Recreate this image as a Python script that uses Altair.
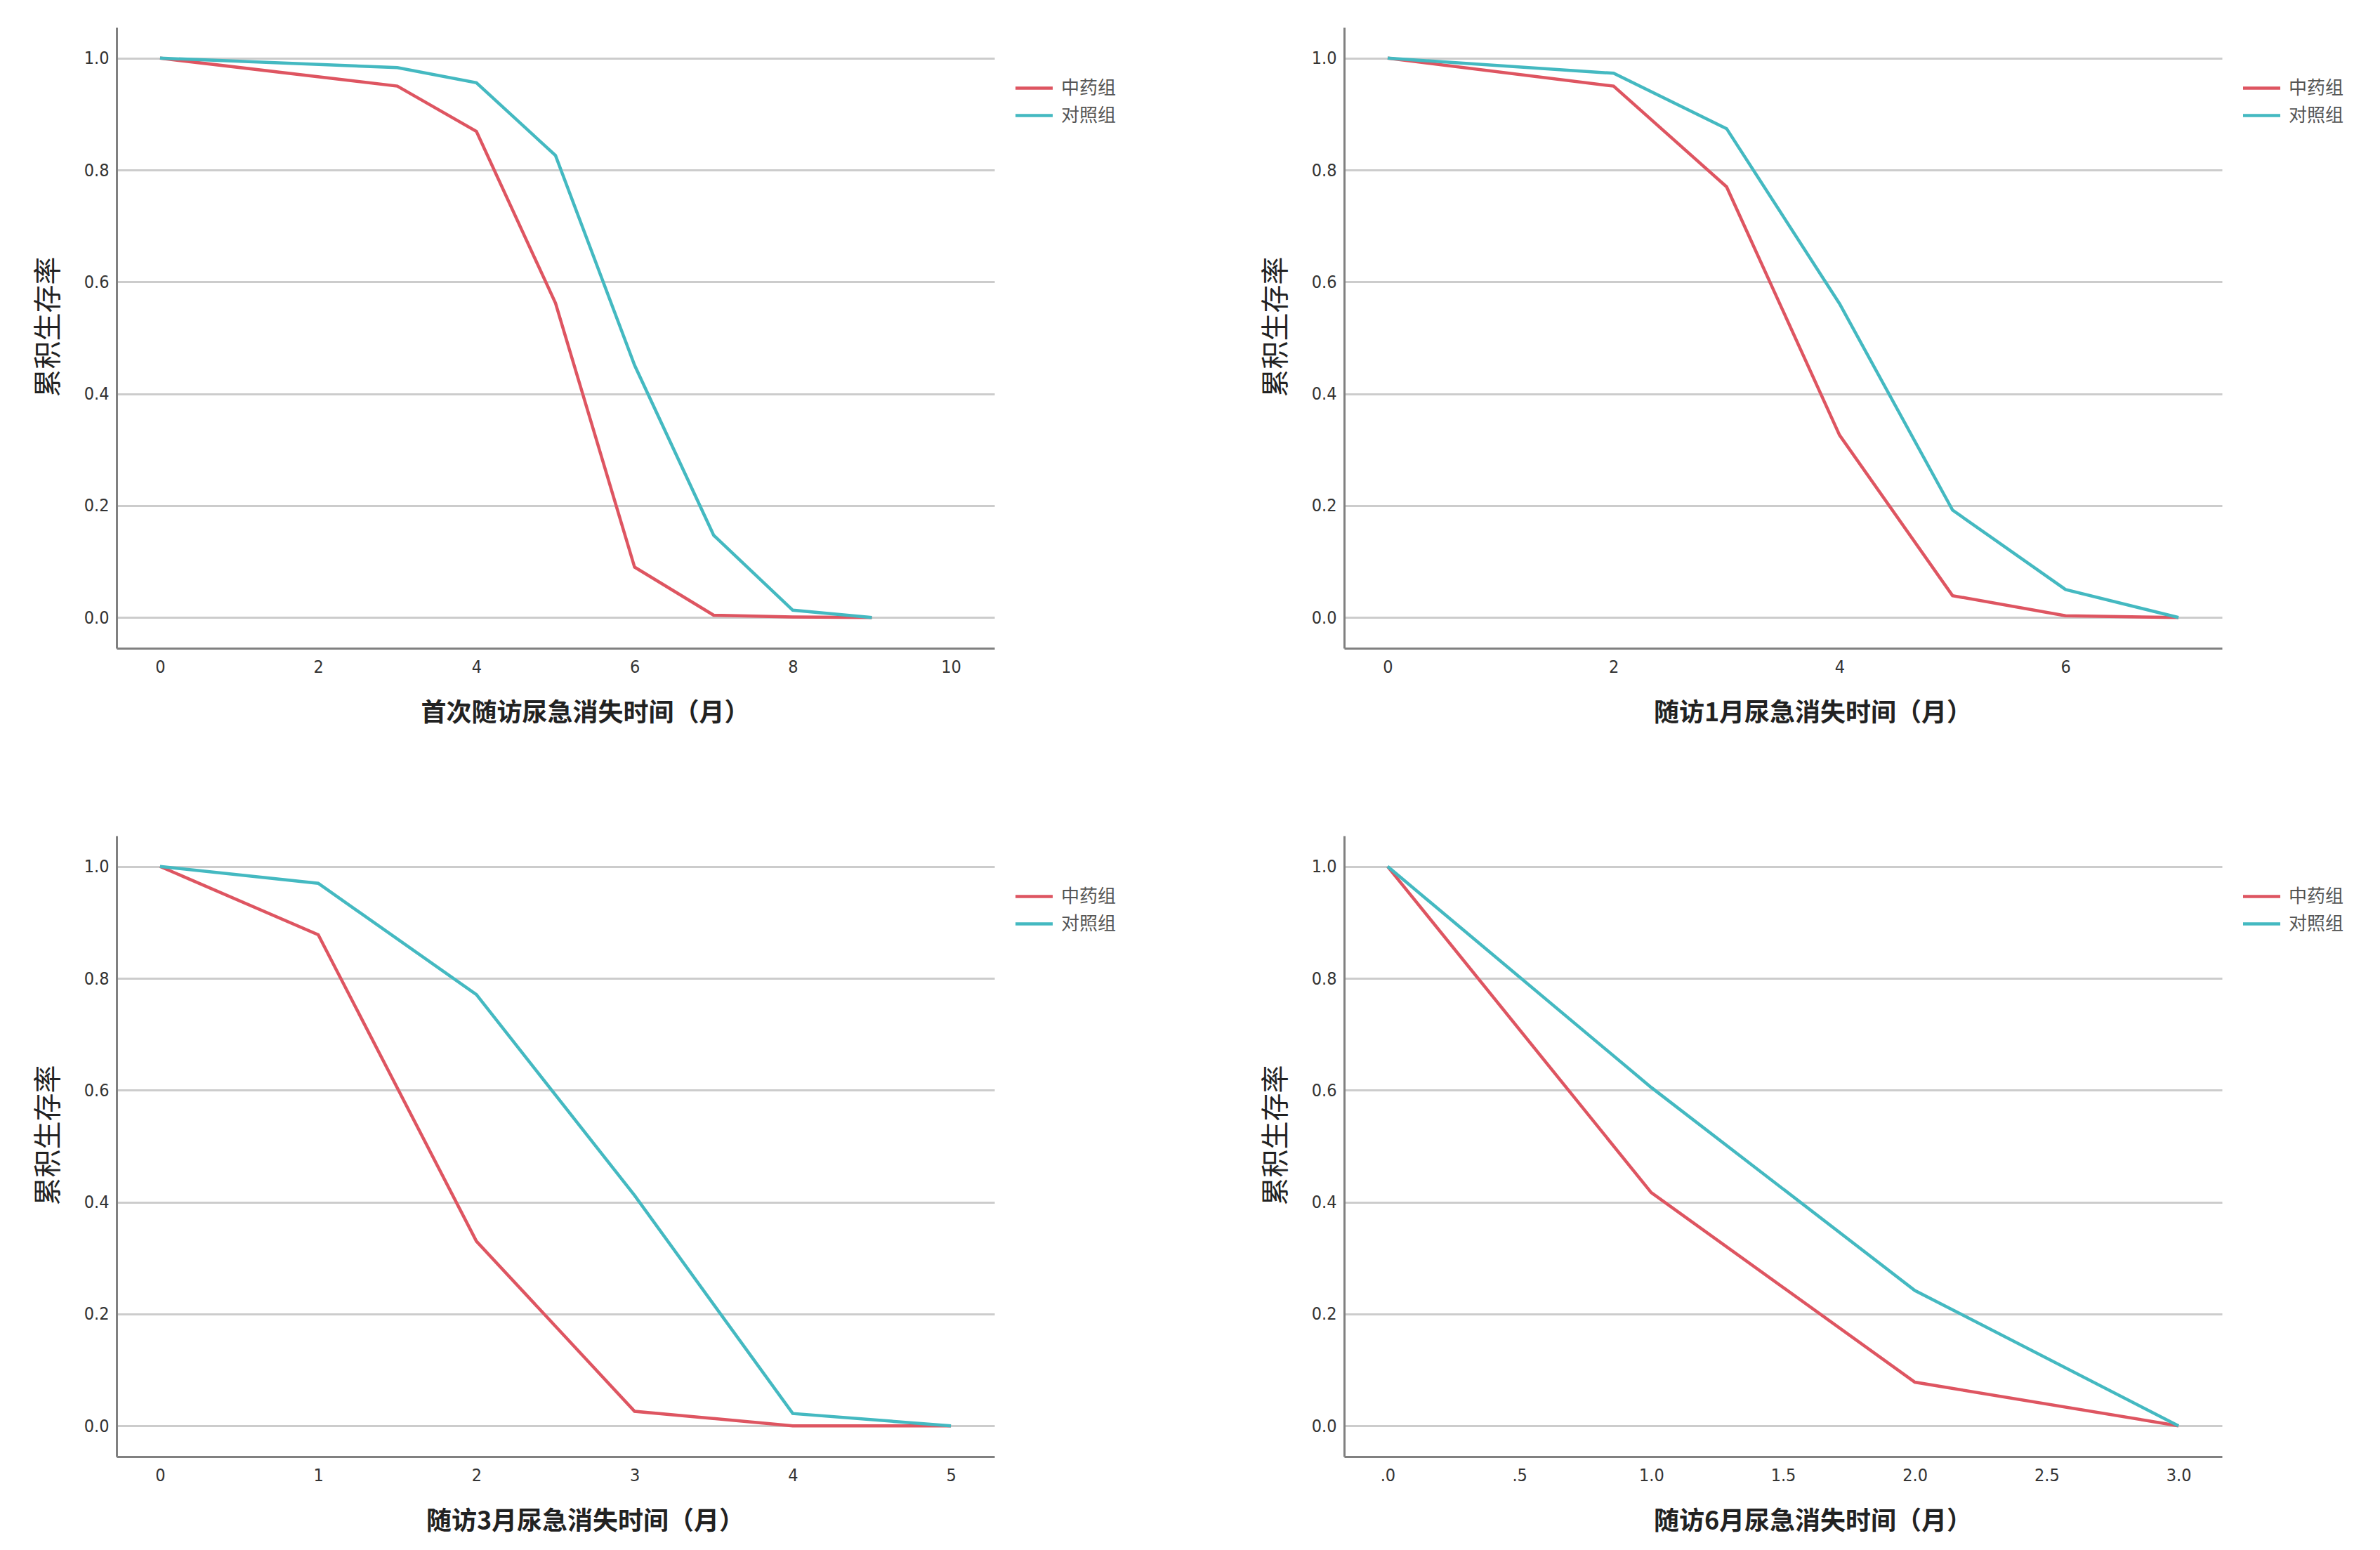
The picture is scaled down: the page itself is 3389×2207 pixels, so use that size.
import altair as alt
import pandas as pd

GROUPS = ["中药组", "对照组"]
COLORS = ["#de5561", "#44b9c1"]
Y_TITLE = "累积生存率"
Y_TICKS = [0.0, 0.2, 0.4, 0.6, 0.8, 1.0]

# Panel 1: first follow-up
p1_title = "首次随访尿急消失时间（月）"
p1_xticks = [0, 2, 4, 6, 8, 10]
p1_xmax = 10
p1_t_tcm = [0, 3, 4, 5, 6, 7, 8, 9]
p1_s_tcm = [1.0, 0.950, 0.869, 0.562, 0.090, 0.004, 0.001, 0.0]
p1_t_ctl = [0, 3, 4, 5, 6, 7, 8, 9]
p1_s_ctl = [1.0, 0.983, 0.956, 0.826, 0.451, 0.147, 0.013, 0.0]

# Panel 2: 1-month follow-up
p2_title = "随访1月尿急消失时间（月）"
p2_xticks = [0, 2, 4, 6]
p2_xmax = 7
p2_t_tcm = [0, 2, 3, 4, 5, 6, 7]
p2_s_tcm = [1.0, 0.950, 0.770, 0.326, 0.039, 0.003, 0.0]
p2_t_ctl = [0, 2, 3, 4, 5, 6, 7]
p2_s_ctl = [1.0, 0.973, 0.874, 0.561, 0.192, 0.050, 0.0]

# Panel 3: 3-month follow-up
p3_title = "随访3月尿急消失时间（月）"
p3_xticks = [0, 1, 2, 3, 4, 5]
p3_xmax = 5
p3_t_tcm = [0, 1, 2, 3, 4, 5]
p3_s_tcm = [1.0, 0.878, 0.330, 0.026, 0.0, 0.0]
p3_t_ctl = [0, 1, 2, 3, 4, 5]
p3_s_ctl = [1.0, 0.970, 0.771, 0.412, 0.022, 0.0]

# Panel 4: 6-month follow-up
p4_title = "随访6月尿急消失时间（月）"
p4_xticks = [0, 0.5, 1.0, 1.5, 2.0, 2.5, 3.0]
p4_xmax = 3
p4_t_tcm = [0, 1, 2, 3]
p4_s_tcm = [1.0, 0.417, 0.078, 0.0]
p4_t_ctl = [0, 1, 2, 3]
p4_s_ctl = [1.0, 0.605, 0.242, 0.0]

W = 1250
H = 884
CJK = "Noto Sans CJK SC"
NUM = "Liberation Sans Narrow, DejaVu Sans Condensed, Liberation Sans, sans-serif"


def panel(title, t_tcm, s_tcm, t_ctl, s_ctl, xmax, xticks, label_expr=None):
    df = pd.DataFrame({
        "t": t_tcm + t_ctl,
        "s": s_tcm + s_ctl,
        "g": [GROUPS[0]] * len(t_tcm) + [GROUPS[1]] * len(t_ctl),
    })
    pad = 0.055 * xmax
    axis_kw = dict(
        values=xticks, title=title, grid=False, ticks=False,
        labelFont=NUM, labelFontSize=25, labelColor="#333333", labelPadding=14,
        titleFont=CJK, titleFontSize=36, titleFontWeight="bold", titleColor="#222222",
        titlePadding=36, titleX=W / 2 + 42, domainColor="#808080", domainWidth=3,
        labelFlush=False,
    )
    if label_expr is not None:
        axis_kw["labelExpr"] = label_expr
    else:
        axis_kw["format"] = "d"
    x = alt.X("t:Q", scale=alt.Scale(domain=[-pad, xmax + pad], nice=False, zero=False),
              axis=alt.Axis(**axis_kw))
    y = alt.Y("s:Q", scale=alt.Scale(domain=[-0.055, 1.055], nice=False, zero=False),
              axis=alt.Axis(values=Y_TICKS, format=".1f", title=Y_TITLE, grid=True,
                            gridColor="#cccccc", gridWidth=3, ticks=False,
                            labelFont=NUM, labelFontSize=25, labelColor="#333333",
                            labelPadding=11, titleFont=CJK, titleFontSize=40,
                            titleFontWeight="normal", titleColor="#222222",
                            titlePadding=30, titleY=H / 2 - 16,
                            domainColor="#808080", domainWidth=3))
    color = alt.Color("g:N", scale=alt.Scale(domain=GROUPS, range=COLORS),
                      legend=alt.Legend(title=None, orient="none", legendX=W + 41, legendY=71,
                                        symbolType="M-2,0H2", symbolSize=702,
                                        symbolStrokeWidth=4.5, labelFont=CJK,
                                        labelFontSize=26, labelColor="#555555",
                                        labelOffset=23, rowPadding=10))
    return alt.Chart(df).mark_line(strokeWidth=4.5).encode(
        x=x, y=y, color=color, order="t:Q"
    ).properties(width=W, height=H)


c1 = panel(p1_title, p1_t_tcm, p1_s_tcm, p1_t_ctl, p1_s_ctl, p1_xmax, p1_xticks)
c2 = panel(p2_title, p2_t_tcm, p2_s_tcm, p2_t_ctl, p2_s_ctl, p2_xmax, p2_xticks)
c3 = panel(p3_title, p3_t_tcm, p3_s_tcm, p3_t_ctl, p3_s_ctl, p3_xmax, p3_xticks)
c4 = panel(p4_title, p4_t_tcm, p4_s_tcm, p4_t_ctl, p4_s_ctl, p4_xmax, p4_xticks,
           label_expr="datum.value < 1 ? replace(format(datum.value, '.1f'), '0.', '.') : format(datum.value, '.1f')")

row1 = alt.hconcat(c1, c2, spacing=207).resolve_scale(color="independent")
row2 = alt.hconcat(c3, c4, spacing=207).resolve_scale(color="independent")
chart = alt.vconcat(row1, row2, spacing=157).resolve_scale(color="independent").configure_view(
    stroke=None
).properties(
    padding={"left": 41, "top": 31, "right": 5, "bottom": 5},
    background="white",
)

chart.save("out.html", embed_options={"renderer": "svg", "actions": False})
